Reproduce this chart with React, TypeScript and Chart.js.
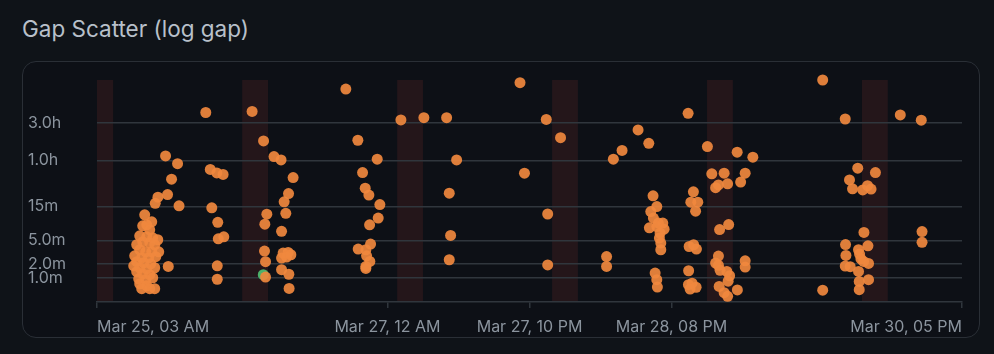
import React, { useEffect, useRef } from 'react';
import { Chart, registerables } from 'chart.js';

Chart.register(...registerables);

// x: hours since Mar 25, 03:30 ; y: log10(1 + gap in minutes)
const xTickHours = [0, 45, 67, 89, 134];
const xTickLabels = ['Mar 25, 03 AM', 'Mar 27, 12 AM', 'Mar 27, 10 PM', 'Mar 28, 08 PM', 'Mar 30, 05 PM'];
const yTickMinutes = [1, 2, 5, 15, 60, 180];
const yTickLabels = ['1.0m', '2.0m', '5.0m', '15m', '1.0h', '3.0h'];
const quietStartHours = [-1.5, 22.5, 46.5, 70.5, 94.5, 118.5];
const quietLengthHours = 4;
const X_MAX = 134;
const Y_MAX = 2.8;

const burstMar25: [number, number][] = [
  [7.39, 1.099], [7.7, 0.974], [8.48, 1.011], [9.02, 1.244], [9.44, 1.322], [10.62, 1.842], [10.93, 1.355],
  [11.55, 1.549], [12.48, 1.744], [12.71, 1.213], [11.04, 0.448],
  [7.08, 0.961], [8.17, 0.911], [6.62, 0.835], [7.7, 0.822], [8.63, 0.81], [9.41, 0.785], [7.08, 0.759],
  [8.17, 0.747], [6.15, 0.722], [8.94, 0.722], [6.62, 0.659], [7.55, 0.633], [8.48, 0.633], [9.56, 0.633],
  [5.84, 0.583], [6.93, 0.558], [8.01, 0.558], [9.1, 0.571], [6.15, 0.508], [7.24, 0.495], [8.32, 0.482],
  [5.69, 0.457], [6.62, 0.432], [7.7, 0.419], [8.94, 0.432], [6.15, 0.382], [7.08, 0.356], [8.17, 0.344],
  [6.46, 0.293], [7.55, 0.281], [8.63, 0.306], [6.62, 0.23], [7.7, 0.205], [6.93, 0.168], [8.17, 0.168], [8.94, 0.168],
];
const burstMar25Eve: [number, number][] = [
  [16.85, 2.39], [17.55, 1.672], [18.56, 1.628], [19.53, 1.609], [17.78, 1.188], [18.71, 1.005],
  [18.79, 0.797], [19.64, 0.822], [18.63, 0.457], [18.63, 0.287],
];
const burstMar26: [number, number][] = [
  [24.03, 2.403], [25.8, 2.031], [27.42, 1.834], [28.51, 1.792], [30.38, 1.569], [29.67, 1.368], [28.99, 1.263],
  [29.25, 1.118], [26.31, 1.108], [26.0, 0.982], [28.59, 0.892], [25.95, 0.642], [26.11, 0.508], [28.83, 0.617],
  [29.61, 0.625], [28.59, 0.554], [29.36, 0.567], [30.03, 0.596], [28.59, 0.407], [29.72, 0.35], [26.11, 0.315],
  [29.76, 0.171],
];
const burstMar26Eve: [number, number][] = [
  [38.55, 2.686], [40.41, 2.04], [43.41, 1.801], [41.14, 1.632], [41.55, 1.436], [42.12, 1.348], [43.82, 1.229],
  [43.56, 1.058], [42.23, 0.974], [42.38, 0.73], [40.46, 0.667], [41.65, 0.659], [41.76, 0.583], [42.27, 0.511],
  [41.65, 0.448], [41.65, 0.423],
];
const burstMar27: [number, number][] = [
  [47.08, 2.296], [50.64, 2.325], [54.16, 2.325], [55.71, 1.792], [54.57, 1.373], [54.78, 0.839], [54.57, 0.533],
];
const burstMar27Eve: [number, number][] = [
  [65.53, 2.766], [69.6, 2.302], [71.81, 2.073], [66.22, 1.625], [69.82, 1.11], [69.82, 0.467],
];
const burstMar28: [number, number][] = [
  [78.94, 0.573], [78.94, 0.448], [79.99, 1.801], [81.34, 1.912], [83.82, 2.17], [85.48, 2.002], [86.14, 1.339],
  [86.72, 1.204], [85.79, 1.141], [86.19, 1.058], [86.97, 0.995], [87.65, 0.995], [85.57, 0.936], [86.72, 0.952],
  [87.85, 0.919], [87.23, 0.869], [87.12, 0.806], [87.34, 0.743], [87.34, 0.659], [86.46, 0.365], [86.72, 0.281],
  [86.81, 0.189],
];
const burstMar28Eve: [number, number][] = [
  [91.57, 2.38], [92.39, 1.389], [91.99, 1.259], [93.07, 1.259], [92.73, 1.146], [91.73, 0.7], [92.42, 0.722],
  [92.86, 0.667], [91.65, 0.394], [91.62, 0.218], [92.19, 0.237], [92.81, 0.186], [91.88, 0.164],
];
const burstMar29: [number, number][] = [
  [94.56, 1.96], [95.24, 1.616], [97.15, 1.625], [100.41, 1.625], [97.69, 1.49], [99.71, 1.513], [95.83, 1.442],
  [96.27, 1.477], [99.17, 1.889], [101.6, 1.827], [97.85, 0.977], [96.45, 0.914], [96.27, 0.579], [95.83, 0.491],
  [96.27, 0.463], [96.53, 0.4], [97.57, 0.385], [98.0, 0.331], [97.77, 0.262], [96.38, 0.196], [97.15, 0.117],
  [97.69, 0.071], [99.2, 0.152], [100.41, 0.52], [100.41, 0.441],
];
const burstMar30: [number, number][] = [
  [112.42, 2.8], [112.42, 0.149], [115.91, 2.308], [124.44, 2.359], [127.69, 2.293], [117.85, 1.688],
  [116.57, 1.54], [120.59, 1.632], [117.04, 1.427], [118.62, 1.414], [119.37, 1.467], [119.91, 1.424],
  [118.81, 0.877], [115.96, 0.724], [119.43, 0.709], [116.02, 0.587], [117.97, 0.659], [118.13, 0.605],
  [118.34, 0.545], [118.75, 0.511], [115.91, 0.453], [116.68, 0.445], [119.52, 0.486], [117.97, 0.385],
  [119.52, 0.281], [118.08, 0.259], [118.08, 0.155], [127.81, 0.889], [127.81, 0.753],
];
const flaggedGaps: [number, number][] = [[25.76, 0.344]];

const allGaps = [
  ...burstMar25, ...burstMar25Eve, ...burstMar26, ...burstMar26Eve, ...burstMar27,
  ...burstMar27Eve, ...burstMar28, ...burstMar28Eve, ...burstMar29, ...burstMar30,
];

const GRID = '#30363d';
const TICK = '#8b949e';
const FONT = 'Inter, "Noto Sans", sans-serif';

const bandPlugin = {
  id: 'quietBands',
  beforeDraw(chart: any) {
    const { ctx, chartArea, scales } = chart;
    const x = scales.x;
    ctx.save();
    ctx.fillStyle = 'rgba(248, 81, 73, 0.1)';
    quietStartHours.forEach((s) => {
      const a = Math.max(s, x.min);
      const b = Math.min(s + quietLengthHours, x.max);
      if (b <= a) return;
      const x1 = x.getPixelForValue(a);
      const x2 = x.getPixelForValue(b);
      ctx.fillRect(x1, chartArea.top, x2 - x1, chartArea.bottom - chartArea.top);
    });
    ctx.restore();
  },
};

export default function App() {
  const ref = useRef<HTMLCanvasElement>(null);
  useEffect(() => {
    const chart = new Chart(ref.current as HTMLCanvasElement, {
      type: 'scatter',
      data: {
        datasets: [
          {
            data: allGaps.map(([h, v]) => ({ x: h, y: v })),
            backgroundColor: 'rgba(240, 136, 62, 0.92)',
            borderWidth: 0,
            pointRadius: 5.5,
            clip: false,
          } as any,
          {
            data: flaggedGaps.map(([h, v]) => ({ x: h, y: v })),
            backgroundColor: '#4cb06a',
            borderWidth: 0,
            pointRadius: 5.5,
            clip: false,
          } as any,
        ],
      },
      options: {
        animation: false,
        responsive: false,
        events: [],
        layout: { padding: { left: 5, right: 17, top: 18, bottom: 0 } },
        plugins: { legend: { display: false }, tooltip: { enabled: false } },
        scales: {
          x: {
            type: 'linear',
            min: 0,
            max: X_MAX,
            afterBuildTicks: (s: any) => {
              s.ticks = xTickHours.map((v) => ({ value: v }));
            },
            afterFit: (s: any) => {
              s.height = 35;
            },
            ticks: {
              autoSkip: false,
              maxRotation: 0,
              align: 'inner',
              color: TICK,
              font: { family: FONT, size: 16 },
              padding: 10,
              callback: (_v: any, i: number) => xTickLabels[i],
            },
            grid: { drawOnChartArea: false, drawTicks: true, tickLength: 6, color: GRID, lineWidth: 1.5 },
            border: { display: true, color: GRID, width: 1.5 },
          },
          y: {
            min: 0,
            max: Y_MAX,
            afterBuildTicks: (s: any) => {
              s.ticks = yTickMinutes.map((m) => ({ value: Math.log10(1 + m) }));
            },
            afterFit: (s: any) => {
              s.width = 69;
            },
            ticks: {
              crossAlign: 'far',
              color: TICK,
              font: { family: FONT, size: 16 },
              padding: 0,
              callback: (_v: any, i: number) => yTickLabels[i],
            },
            grid: { drawTicks: false, color: GRID, lineWidth: 1.5 },
            border: { display: false },
          },
        },
      } as any,
      plugins: [bandPlugin],
    });
    return () => chart.destroy();
  }, []);

  return (
    <div style={{ position: 'fixed', inset: 0, background: '#0f1318', fontFamily: FONT }}>
      <div
        style={{
          position: 'absolute',
          left: 22,
          top: 16,
          fontSize: 22.5,
          fontWeight: 400,
          lineHeight: '26px',
          color: '#b8c0ca',
          whiteSpace: 'nowrap',
        }}
      >
        Gap Scatter (log gap)
      </div>
      <div
        style={{
          position: 'absolute',
          left: 22,
          top: 61,
          width: 958,
          height: 277,
          boxSizing: 'border-box',
          border: '1px solid #2a2f36',
          borderRadius: 14,
          background: '#0d1016',
          overflow: 'hidden',
        }}
      >
        <canvas ref={ref} width={956} height={275} style={{ display: 'block', width: 956, height: 275 }} />
      </div>
    </div>
  );
}
